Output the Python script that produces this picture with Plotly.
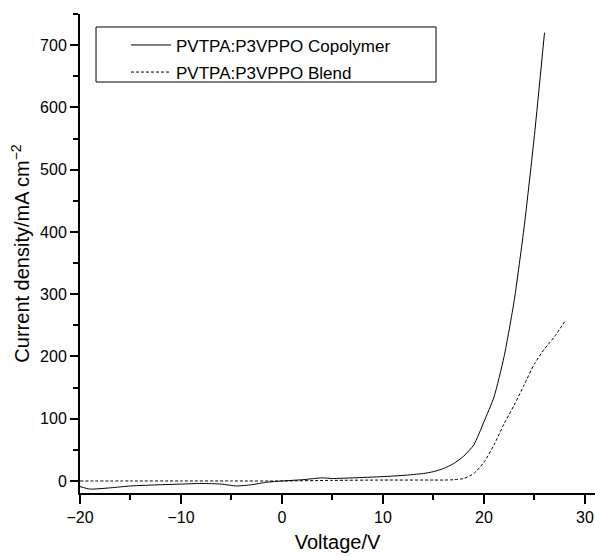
import plotly.graph_objects as go

# Copolymer (solid)
copolymer_v = [-20, -19, -17, -15, -12, -10, -8, -6, -4.5, -3, -1.5, 0, 2, 4, 5, 7, 10, 12, 14, 15, 16, 17, 18, 19, 20, 21, 22, 23, 24, 25, 26]
copolymer_j = [-9, -13, -11, -8, -6, -5, -4, -5, -8, -6, -2, 0, 2, 5, 4, 5, 7, 9, 12, 15, 20, 28, 40, 58, 95, 135, 200, 290, 410, 555, 720]

# Blend (dashed)
blend_v = [-20, -15, -10, -5, 0, 5, 10, 15, 16, 17, 18, 19, 20, 21, 22, 23, 24, 25, 26, 27, 28]
blend_j = [0, 0, 0, 0, 0, 1, 1.5, 1.5, 1.5, 2, 4, 12, 30, 58, 92, 122, 155, 188, 212, 232, 256]

names = ["PVTPA:P3VPPO Copolymer" + "\u00a0" * 7, "PVTPA:P3VPPO Blend"]

fig = go.Figure()
fig.add_trace(go.Scatter(x=copolymer_v, y=copolymer_j, mode="lines", name=names[0],
                         legendgroup="a",
                         line=dict(color="black", width=1, shape="spline", smoothing=0.6)))
fig.add_trace(go.Scatter(x=blend_v, y=blend_j, mode="lines", name=names[1],
                         legendgroup="b",
                         line=dict(color="black", width=1, dash="3px,2px", shape="spline", smoothing=0.6)))

font = "Liberation Sans, Arial, Helvetica, sans-serif"
fig.update_layout(
    width=595, height=556,
    margin=dict(l=80, r=0, t=14, b=63),
    paper_bgcolor="white", plot_bgcolor="white",
    font=dict(family=font, size=16, color="black"),
    showlegend=True,
    legend=dict(x=0.0893, y=0.972, xanchor="left", yanchor="top",
                borderwidth=0, bgcolor="rgba(0,0,0,0)",
                font=dict(size=17), tracegroupgap=2, itemwidth=40),
    shapes=[dict(type="rect", xref="paper", yref="paper",
                 x0=0.0311, x1=0.6913, y0=0.858, y1=0.9729,
                 line=dict(color="black", width=1), fillcolor="rgba(0,0,0,0)", layer="above")],
    xaxis=dict(range=[-20, 31], tickvals=[-20, -10, 0, 10, 20, 30],
               ticktext=["\u221220", "\u221210", "0", "10", "20", "30"],
               showline=True, linecolor="black", linewidth=2,
               ticks="outside", ticklen=9, tickwidth=1.5, tickcolor="black",
               minor=dict(ticks="outside", dtick=5, ticklen=5, tickwidth=1.5, tickcolor="black"),
               showgrid=False, zeroline=False,
               title=dict(text="Voltage/V", font=dict(size=20), standoff=10)),
    yaxis=dict(range=[-19.3, 750], tickvals=[0, 100, 200, 300, 400, 500, 600, 700],
               showline=True, linecolor="black", linewidth=2,
               ticks="outside", ticklen=8, tickwidth=1.5, tickcolor="black",
               minor=dict(ticks="outside", dtick=50, ticklen=5, tickwidth=1.5, tickcolor="black"),
               showgrid=False, zeroline=False,
               title=dict(text="Current density/mA cm<sup>\u22122</sup>", font=dict(size=20), standoff=5)),
)

fig.write_html("out.html")
